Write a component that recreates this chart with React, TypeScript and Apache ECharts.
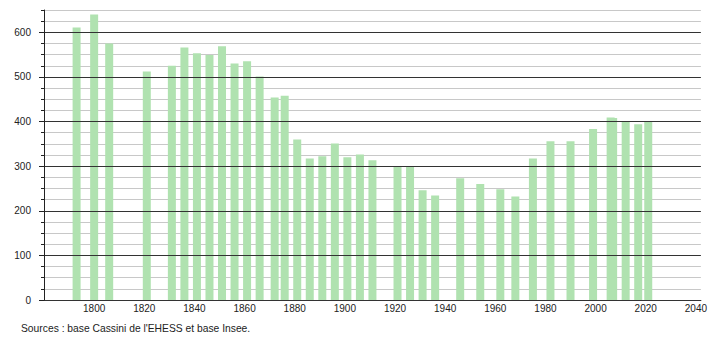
import React, { useEffect, useRef } from "react";
import * as echarts from "echarts";

const years = [
  1793, 1800, 1806, 1821, 1831, 1836, 1841, 1846, 1851, 1856, 1861, 1866, 1872, 1876,
  1881, 1886, 1891, 1896, 1901, 1906, 1911, 1921, 1926, 1931, 1936, 1946, 1954, 1962,
  1968, 1975, 1982, 1990, 1999, 2006, 2007, 2012, 2017, 2021,
];
const population = [
  611, 640, 575, 512, 525, 566, 553, 549, 569, 530, 535, 501, 454, 458,
  360, 317, 322, 351, 320, 326, 313, 299, 298, 246, 234, 273, 260, 248,
  232, 317, 356, 356, 383, 409, 408, 400, 394, 400,
];
const xTickYears = [1800, 1820, 1840, 1860, 1880, 1900, 1920, 1940, 1960, 1980, 2000, 2020, 2040];
const sourceText = "Sources : base Cassini de l'EHESS et base Insee.";

const FONT = "'Liberation Sans', Arial, sans-serif";

export default function App() {
  const ref = useRef<HTMLDivElement>(null);
  useEffect(() => {
    if (!ref.current) return;
    const chart = echarts.init(ref.current, undefined, { renderer: "svg" });
    const data = years.map((y, i) => [y, population[i]]);
    chart.setOption({
      animation: false,
      textStyle: { fontFamily: FONT },
      grid: { left: 44, right: 9, top: 10, bottom: 40, containLabel: false },
      xAxis: {
        type: "value",
        min: 1780,
        max: 2042,
        interval: 20,
        axisLine: { show: true, onZero: false, lineStyle: { color: "#222", width: 1 } },
        axisTick: { show: false },
        splitLine: { show: false },
        axisLabel: {
          margin: 3,
          fontSize: 10,
          color: "#222",
          fontFamily: FONT,
          formatter: (v: number) => (xTickYears.indexOf(v) >= 0 ? String(v) : ""),
        },
      },
      yAxis: [
        {
          type: "value",
          min: 0,
          max: 650,
          interval: 100,
          axisLine: { show: true, lineStyle: { color: "#222", width: 1 } },
          axisTick: { show: true, length: 5, lineStyle: { color: "#222" } },
          splitLine: { show: true, showMaxLine: false, lineStyle: { color: "#333", width: 1 } },
          axisLabel: {
            margin: 13,
            fontSize: 10,
            color: "#222",
            fontFamily: FONT,
            showMaxLabel: false,
            formatter: (v: number) => (v % 100 === 0 ? String(v) : ""),
          },
          z: 3,
        },
        {
          type: "value",
          min: 0,
          max: 650,
          interval: 25,
          position: "left",
          axisLine: { show: false },
          axisTick: { show: true, length: 3, lineStyle: { color: "#222" } },
          axisLabel: { show: false },
          splitLine: {
            show: true,
            lineStyle: { color: ["transparent", "#c8c8c8", "#c8c8c8", "#c8c8c8"], width: 1 },
          },
          z: 1,
        },
      ],
      series: [
        {
          type: "bar",
          yAxisIndex: 0,
          data,
          barWidth: 8,
          itemStyle: { color: "#b0e2b0" },
          z: 2,
        },
      ],
      graphic: [
        {
          type: "text",
          left: 21,
          top: 323,
          style: { text: sourceText, fontSize: 10.3, fill: "#222", fontFamily: FONT },
        },
      ],
    });
    return () => chart.dispose();
  }, []);
  return (
    <div
      ref={ref}
      style={{ position: "fixed", left: 0, top: 0, width: 710, height: 340, background: "#fff" }}
    />
  );
}
